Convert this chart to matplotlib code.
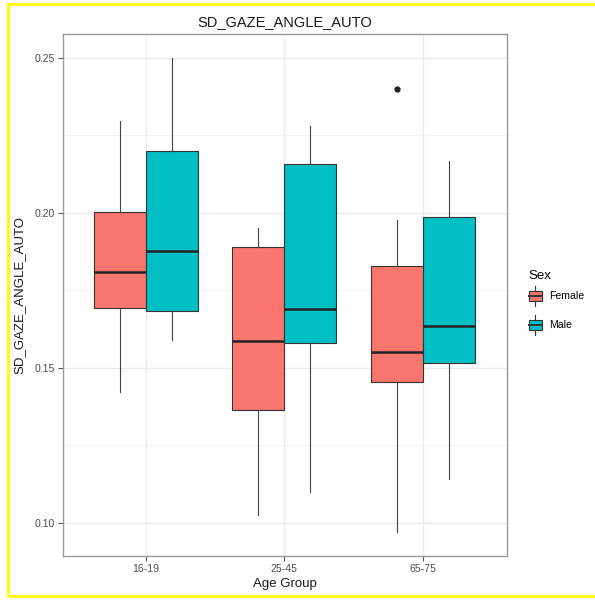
import matplotlib.pyplot as plt
from matplotlib.patches import Rectangle
from matplotlib.lines import Line2D
from matplotlib.legend_handler import HandlerBase
import numpy as np

plt.rcParams['font.family'] = ['Liberation Sans', 'DejaVu Sans']

groups = ['16-19', '25-45', '65-75']
sexes = ['Female', 'Male']
colors = {'Female': '#F8766D', 'Male': '#00BFC4'}

# whisker low, q1, median, q3, whisker high  (per group)
female_stats = [
    [0.1421, 0.1692, 0.1810, 0.2001, 0.2297],
    [0.1025, 0.1364, 0.1586, 0.1890, 0.1952],
    [0.0969, 0.1455, 0.1552, 0.1829, 0.1976],
]
male_stats = [
    [0.1589, 0.1683, 0.1875, 0.2199, 0.2498],
    [0.1098, 0.1579, 0.1689, 0.2157, 0.2280],
    [0.1140, 0.1514, 0.1636, 0.1987, 0.2167],
]
female_outliers = [[], [], [0.2400]]
male_outliers = [[], [], []]

edge = '#333333'


def make_stats(rows, outs):
    res = []
    for r, o in zip(rows, outs):
        res.append(dict(whislo=r[0], q1=r[1], med=r[2], q3=r[3], whishi=r[4], fliers=o))
    return res


class BoxKey(HandlerBase):
    def create_artists(self, legend, orig_handle, xdescent, ydescent,
                       width, height, fontsize, trans):
        fc = orig_handle.get_facecolor()
        x0, y0 = -xdescent, -ydescent
        cx = x0 + width / 2
        rect = Rectangle((x0, y0 + height * 0.27), width, height * 0.46,
                         facecolor=fc, edgecolor=edge, lw=0.8, transform=trans)
        w1 = Line2D([cx, cx], [y0, y0 + height * 0.27], color=edge, lw=0.8, transform=trans)
        w2 = Line2D([cx, cx], [y0 + height * 0.73, y0 + height], color=edge, lw=0.8, transform=trans)
        md = Line2D([x0, x0 + width], [y0 + height / 2] * 2, color=edge, lw=1.4, transform=trans)
        return [rect, w1, w2, md]


fig = plt.figure(figsize=(5.95, 6), dpi=100)
ax = fig.add_axes([0.1059, 0.0733, 0.7463, 0.87])

x = np.arange(len(groups))
bw = 0.375
for stats, outs, sex, off in [(female_stats, female_outliers, 'Female', -bw / 2),
                              (male_stats, male_outliers, 'Male', bw / 2)]:
    ax.bxp(make_stats(stats, outs), positions=x + off, widths=bw, patch_artist=True,
           showcaps=False,
           boxprops=dict(facecolor=colors[sex], edgecolor=edge, lw=0.8),
           whiskerprops=dict(color='#444444', lw=0.8),
           medianprops=dict(color='#222222', lw=1.8, solid_capstyle='butt'),
           flierprops=dict(marker='o', markerfacecolor='#222222', markeredgecolor='#222222',
                           markersize=3.5), zorder=3)

ax.set_xlim(-0.6, 2.61)
ax.set_ylim(0.0893, 0.2576)
ax.set_xticks(x)
ax.set_xticklabels(groups)
ax.set_yticks([0.10, 0.15, 0.20, 0.25])
ax.set_yticklabels(['0.10', '0.15', '0.20', '0.25'])
ax.set_yticks([0.125, 0.175, 0.225], minor=True)
ax.grid(True, which='major', color='#EBEBEB', lw=1.0, zorder=0)
ax.grid(True, which='minor', axis='y', color='#F2F2F2', lw=0.6, zorder=0)
ax.set_axisbelow(True)
ax.tick_params(which='major', length=3.5, width=0.8, color='#555555',
               labelsize=7.6, labelcolor='#4D4D4D', pad=2)
ax.tick_params(which='minor', length=0)
for s in ax.spines.values():
    s.set_color('#9A9A9A')
    s.set_linewidth(1.0)

ax.set_title('SD_GAZE_ANGLE_AUTO', fontsize=10.5, color='#1A1A1A', pad=6)
ax.set_xlabel('Age Group', fontsize=9.5, color='#1A1A1A', labelpad=3)
ax.set_ylabel('SD_GAZE_ANGLE_AUTO', fontsize=9.5, color='#1A1A1A', labelpad=7)

handles = [Rectangle((0, 0), 1, 1, facecolor=colors[s]) for s in sexes]
leg = fig.legend(handles, sexes, loc='upper left', bbox_to_anchor=(0.876, 0.563),
                 frameon=False, title='Sex', fontsize=7.6, title_fontsize=9.5,
                 handler_map={Rectangle: BoxKey()}, handlelength=1.25, handleheight=2.6,
                 handletextpad=0.7, labelspacing=0.8, borderpad=0.2)
leg._legend_box.align = 'left'
leg._legend_box.sep = 3

fig.patches.append(Rectangle((8 / 595, 4 / 600), 1.0, 592 / 600, transform=fig.transFigure,
                             fill=False, edgecolor='#FFFF00', lw=2.0))

fig.savefig('out.png', dpi=100)
